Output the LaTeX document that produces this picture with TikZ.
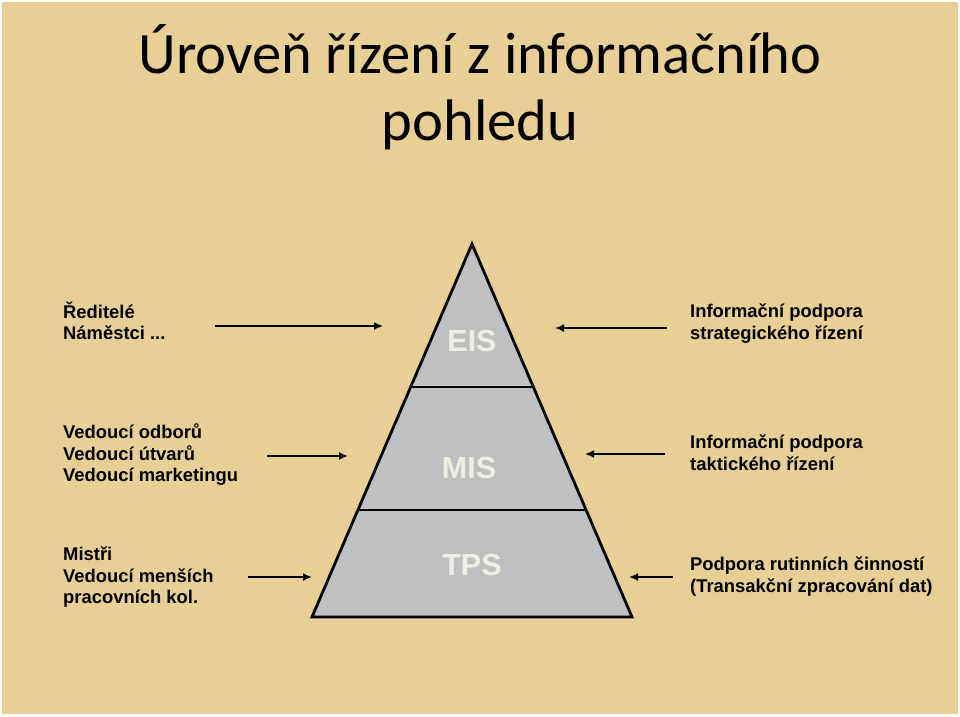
\documentclass[tikz,border=0pt]{standalone}
\usepackage{fontspec}
\setmainfont{Liberation Sans}
\newfontfamily\titlefont{Carlito}
\usetikzlibrary{arrows.meta}
\definecolor{parch}{HTML}{E8CF95}
\definecolor{pgray}{HTML}{C0C0C0}
\definecolor{ptext}{HTML}{EFEFE6}
\tikzset{
  lbl/.style={anchor=base west, inner sep=0pt, font=\fontsize{18.4}{22}\selectfont\bfseries, text=black},
  ttl/.style={anchor=base, inner sep=0pt, font=\titlefont\fontsize{58.6}{67}\selectfont, text=black},
  lvl/.style={inner sep=0pt, font=\fontsize{30.5}{32}\selectfont\bfseries, text=ptext},
  arr/.style={line width=2.4pt, -{Latex[length=9pt,width=8pt]}},
  pyr/.style={line width=2.8pt, line join=miter},
}
\begin{document}
\begin{tikzpicture}[x=1pt,y=-1pt]
\useasboundingbox (0,0) rectangle (960,716);
\fill[parch] (0,0) rectangle (960,716);
\draw[white, line width=2pt] (1,1) rectangle (959,715);
% title
\node[ttl] (t1) at (480,73) {Úroveň řízení z informačního};
\node[ttl] (t2) at (480,140) {pohledu};
% pyramid
\coordinate (apex) at (472,244);
\coordinate (bl) at (312,617);
\coordinate (br) at (632,617);
\coordinate (d1l) at (410.5,387);
\coordinate (d1r) at (533.5,387);
\coordinate (d2l) at (358,510);
\coordinate (d2r) at (586,510);
\fill[pgray] (apex) -- (br) -- (bl) -- cycle;
\draw[pyr] (d1l) -- (d1r);
\draw[pyr] (d2l) -- (d2r);
\draw[pyr] (apex) -- (br) -- (bl) -- cycle;
\node[lvl] (eis) at (472,341) {EIS};
\node[lvl] (mis) at (469,468) {MIS};
\node[lvl] (tps) at (472,565) {TPS};
% left labels
\node[lbl] (a1) at (63,318) {Ředitelé};
\node[lbl] (a2) at (63,339) {Náměstci ...};
\node[lbl] (b1) at (63,438) {Vedoucí odborů};
\node[lbl] (b2) at (63,460) {Vedoucí útvarů};
\node[lbl] (b3) at (63,481) {Vedoucí marketingu};
\node[lbl] (c1) at (63,560) {Mistři};
\node[lbl] (c2) at (63,582) {Vedoucí menších};
\node[lbl] (c3) at (63,603) {pracovních kol.};
% right labels
\node[lbl] (r1) at (690,317) {Informační podpora};
\node[lbl] (r2) at (690,339) {strategického řízení};
\node[lbl] (s1) at (690,448) {Informační podpora};
\node[lbl] (s2) at (690,470) {taktického řízení};
\node[lbl] (u1) at (690,570) {Podpora rutinních činností};
\node[lbl] (u2) at (690,592) {(Transakční zpracování dat)};
% arrows
\coordinate (la1s) at (215,326); \coordinate (la1e) at (383,326);
\coordinate (la2s) at (267,456); \coordinate (la2e) at (348,456);
\coordinate (la3s) at (248,577); \coordinate (la3e) at (312,577);
\coordinate (ra1s) at (667,328); \coordinate (ra1e) at (555,328);
\coordinate (ra2s) at (665,454); \coordinate (ra2e) at (585,454);
\coordinate (ra3s) at (673,577); \coordinate (ra3e) at (629,577);
\draw[arr] (la1s) -- (la1e);
\draw[arr] (la2s) -- (la2e);
\draw[arr] (la3s) -- (la3e);
\draw[arr] (ra1s) -- (ra1e);
\draw[arr] (ra2s) -- (ra2e);
\draw[arr] (ra3s) -- (ra3e);
\end{tikzpicture}
\end{document}
